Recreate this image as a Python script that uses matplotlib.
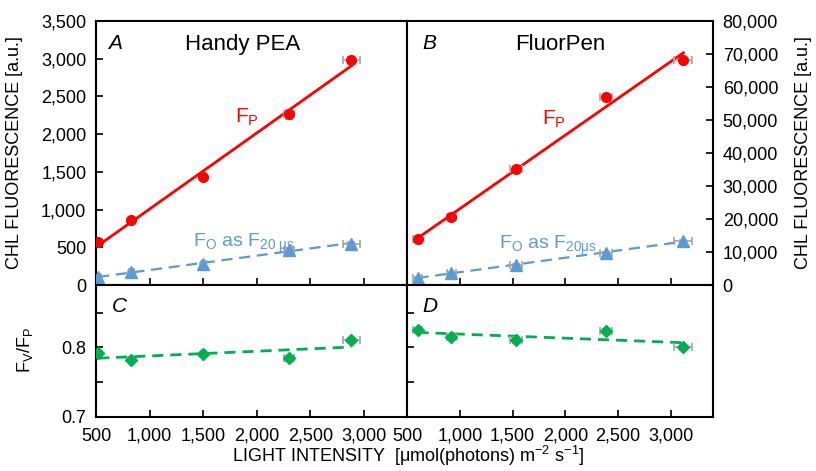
import numpy as np
import matplotlib
matplotlib.use("Agg")
import matplotlib.pyplot as plt
from matplotlib.ticker import FuncFormatter, MultipleLocator

plt.rcParams['font.family'] = ['Liberation Sans', 'DejaVu Sans']
plt.rcParams['mathtext.fontset'] = 'custom'
plt.rcParams['mathtext.rm'] = 'Liberation Sans'
plt.rcParams['mathtext.it'] = 'Liberation Sans:italic'
plt.rcParams['mathtext.default'] = 'regular'

# Handy PEA (painel A / C)
luz_pea = [520, 830, 1500, 2300, 2880]
luz_pea_err = [25, 25, 25, 50, 80]
fp_pea = [566, 858, 1430, 2262, 2978]
fp_pea_err = [20, 25, 30, 60, 40]
fo_pea = [105, 170, 282, 466, 548]
fo_pea_err = [10, 10, 15, 20, 20]
fvfp_pea = [0.792, 0.782, 0.790, 0.784, 0.811]
fvfp_pea_err = [0.003, 0.003, 0.004, 0.004, 0.003]

# FluorPen (painel B / D)
luz_fp = [600, 920, 1535, 2385, 3120]
luz_fp_err = [40, 40, 55, 55, 85]
fp_fp = [13800, 20700, 35100, 57000, 68300]
fp_fp_err = [400, 500, 600, 700, 600]
fo_fp = [2200, 3600, 6150, 9700, 13350]
fo_fp_err = [200, 250, 300, 300, 400]
fvfp_fp = [0.825, 0.815, 0.811, 0.824, 0.800]
fvfp_fp_err = [0.003, 0.003, 0.004, 0.003, 0.004]

VERMELHO = '#ff0000'
AZUL = '#5b9bd5'
VERDE = '#00b050'
CINZA = '#a6a6a6'

fig = plt.figure(figsize=(8.16, 4.71), dpi=100)
x0, xm, x1 = 96/816, 407/816, 713/816
y_base, y_meio, y_topo = 1 - 416.7/471, 1 - 285/471, 1 - 21/471
axA = fig.add_axes([x0, y_meio, xm - x0, y_topo - y_meio])
axB = fig.add_axes([xm, y_meio, x1 - xm, y_topo - y_meio])
axC = fig.add_axes([x0, y_base, xm - x0, y_meio - y_base])
axD = fig.add_axes([xm, y_base, x1 - xm, y_meio - y_base])

fmt_virgula = FuncFormatter(lambda v, p: f"{v:,.0f}")


def ajuste(ax, x, y, cor, estilo, lw):
    coef = np.polyfit(x, y, 1)
    xs = np.array([min(x), max(x)])
    ax.plot(xs, np.polyval(coef, xs), color=cor, linestyle=estilo, linewidth=lw, zorder=2)


def pontos(ax, x, y, xe, ye, cor, marcador, tam):
    ax.errorbar(x, y, xerr=xe, yerr=ye, fmt='none', ecolor=CINZA, elinewidth=1.2,
                capsize=3, capthick=1.2, zorder=3)
    ax.plot(x, y, linestyle='none', marker=marcador, color=cor, markersize=tam, zorder=4)


for ax in (axA, axB, axC, axD):
    ax.set_xlim(500, 3400)
    ax.xaxis.set_major_locator(MultipleLocator(500))
    ax.tick_params(direction='in', length=5, width=1.2, labelsize=13)
    ax.tick_params(which='minor', direction='in', length=5, width=1.2)
    ax.tick_params(axis='x', pad=8)
    ax.tick_params(axis='y', pad=7)
    for s in ax.spines.values():
        s.set_linewidth(1.5)

# Painel A
ajuste(axA, luz_pea, fp_pea, VERMELHO, '-', 2.0)
ajuste(axA, luz_pea, fo_pea, AZUL, (0, (5, 3)), 1.6)
pontos(axA, luz_pea, fp_pea, luz_pea_err, fp_pea_err, VERMELHO, 'o', 7)
pontos(axA, luz_pea, fo_pea, luz_pea_err, fo_pea_err, AZUL, '^', 8)
axA.set_ylim(0, 3500)
axA.yaxis.set_major_locator(MultipleLocator(500))
axA.yaxis.set_major_formatter(fmt_virgula)
axA.tick_params(axis='x', labelbottom=False)
axA.text(0.04, 0.95, 'A', transform=axA.transAxes, fontsize=15, style='italic', va='top')
axA.text(0.47, 0.95, 'Handy PEA', transform=axA.transAxes, fontsize=16, ha='center', va='top')
axA.text(1800, 2150, 'F$_{P}$', color=VERMELHO, fontsize=15)
axA.text(1400, 510, 'F$_{O}$ as F$_{20\\ μs}$', color=AZUL, fontsize=14)

# Painel B
ajuste(axB, luz_fp, fp_fp, VERMELHO, '-', 2.0)
ajuste(axB, luz_fp, fo_fp, AZUL, (0, (5, 3)), 1.6)
pontos(axB, luz_fp, fp_fp, luz_fp_err, fp_fp_err, VERMELHO, 'o', 7)
pontos(axB, luz_fp, fo_fp, luz_fp_err, fo_fp_err, AZUL, '^', 8)
axB.set_ylim(0, 80000)
axB.yaxis.set_major_locator(MultipleLocator(10000))
axB.yaxis.set_major_formatter(fmt_virgula)
axB.yaxis.tick_right()
axB.tick_params(axis='x', labelbottom=False)
axB.tick_params(axis='y', left=False, labelleft=False)
axB.text(0.05, 0.95, 'B', transform=axB.transAxes, fontsize=15, style='italic', va='top')
axB.text(0.50, 0.95, 'FluorPen', transform=axB.transAxes, fontsize=16, ha='center', va='top')
axB.text(1780, 48500, 'F$_{P}$', color=VERMELHO, fontsize=15)
axB.text(1370, 11000, 'F$_{O}$ as F$_{20μs}$', color=AZUL, fontsize=14)

# Paineis C e D
for ax, x, xe, y, ye in ((axC, luz_pea, luz_pea_err, fvfp_pea, fvfp_pea_err),
                         (axD, luz_fp, luz_fp_err, fvfp_fp, fvfp_fp_err)):
    ajuste(ax, x, y, VERDE, (0, (4, 2.5)), 2.0)
    pontos(ax, x, y, xe, ye, VERDE, 'D', 6.5)
    ax.set_ylim(0.7, 0.89)
    ax.yaxis.set_major_locator(MultipleLocator(0.1))
    ax.yaxis.set_minor_locator(MultipleLocator(0.05))
    ax.xaxis.set_major_formatter(fmt_virgula)

axC.yaxis.set_major_formatter(FuncFormatter(lambda v, p: f"{v:.1f}"))
axD.tick_params(axis='y', which='both', labelleft=False)
axC.text(0.05, 0.91, 'C', transform=axC.transAxes, fontsize=15, style='italic', va='top')
axD.text(0.05, 0.91, 'D', transform=axD.transAxes, fontsize=15, style='italic', va='top')

fig.text(15/816, 1 - 153/471, 'CHL FLUORESCENCE [a.u.]', rotation=90, ha='center', va='center', fontsize=13)
fig.text(803/816, 1 - 153/471, 'CHL FLUORESCENCE [a.u.]', rotation=90, ha='center', va='center', fontsize=13)
fig.text(25/816, 1 - 350/471, 'F$_{V}$/F$_{P}$', rotation=90, ha='center', va='center', fontsize=13)
fig.text(408/816, 1 - 456/471, 'LIGHT INTENSITY  [μmol(photons) m$^{-2}$ s$^{-1}$]',
         ha='center', va='center', fontsize=13)

fig.savefig('out.png', dpi=100)
